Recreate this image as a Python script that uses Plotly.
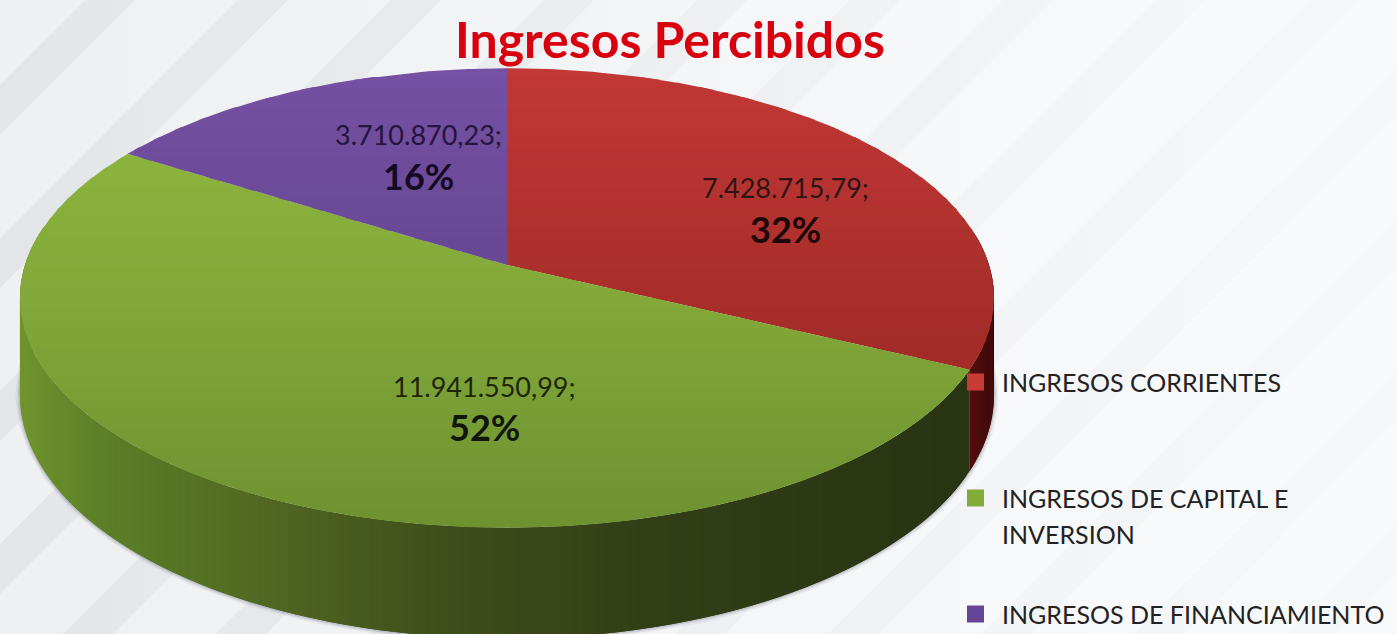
import numpy as np
import plotly.graph_objects as go

# ---- data ----
categories = [["INGRESOS CORRIENTES"], ["INGRESOS DE CAPITAL E", "INVERSION"], ["INGRESOS DE FINANCIAMIENTO"]]
values = [7428715.79, 11941550.99, 3710870.23]
title_text = "Ingresos Percibidos"

# ---- style ----
W, H = 1397, 634
FONT = "Lato, Carlito, Calibri, sans-serif"
top_colors = [
    [(0.0, (194, 56, 54)), (0.5, (168, 46, 42)), (1.0, (146, 38, 32))],
    [(0.0, (146, 186, 62)), (0.5, (130, 168, 58)), (1.0, (110, 146, 48))],
    [(0.0, (118, 80, 162)), (0.5, (100, 70, 145)), (1.0, (84, 60, 125))],
]
wall_stops = [
    [(0, (92, 16, 16)), (960, (92, 16, 16)), (1000, (58, 8, 8))],
    [(20, (112, 148, 46)), (100, (92, 128, 40)), (300, (78, 98, 32)),
     (450, (62, 78, 26)), (650, (50, 62, 22)), (970, (40, 52, 18))],
    [(0, (70, 45, 100)), (1000, (50, 30, 80))],
]
legend_colors = ["#c83a36", "#84aa3a", "#644496"]
label_colors = ["#2e1414", "#1e2608", "#24143e"]
pct_colors = ["#1c0808", "#10160a", "#140a24"]
label_pos = [(785, 187, 229), (484, 386, 427), (418, 134, 176)]
legend_pos = [(975.5, 382, 1000), (975.5, 498, 1000), (975.5, 614, 1000)]
LINE_GAP = 36

# Perspective projection of the unit disc
CX, CY, RX, RY, PERSP, DEPTH = 507, 265, 482, 225, 0.1435, 95


def project(t, r=1.0):
    u, v = r * np.sin(t), r * np.cos(t)
    d = PERSP * v + 1
    return CX + RX * u / d, CY - RY * v / d


def bottom(t):
    x, y = project(t)
    return x, y + DEPTH / (PERSP * np.cos(t) + 1)


def lerp(stops, p):
    xs = [s[0] for s in stops]
    return tuple(int(round(np.interp(p, xs, [s[1][i] for s in stops]))) for i in range(3))


def rgb(c):
    return "rgb(%d,%d,%d)" % c


def fmt(v):
    s = f"{v:,.2f}"
    return s.replace(",", "#").replace(".", ",").replace("#", ".")


def clip(poly, y0, y1):
    def half(pts, inside, edge):
        out = []
        for i in range(len(pts)):
            a, b = pts[i], pts[(i + 1) % len(pts)]
            ia, ib = inside(a), inside(b)
            if ia:
                out.append(a)
            if ia != ib:
                k = (edge - a[1]) / (b[1] - a[1])
                out.append((a[0] + k * (b[0] - a[0]), edge))
        return out
    p = half(poly, lambda q: q[1] >= y0, y0)
    if len(p) < 3:
        return []
    return half(p, lambda q: q[1] <= y1, y1)


fig = go.Figure()


def add_poly(xs, ys, color):
    fig.add_trace(go.Scatter(x=list(xs), y=list(ys), mode="lines", fill="toself", fillcolor=color,
                             line=dict(width=0), hoverinfo="skip", showlegend=False))


fractions = np.array(values) / sum(values)
edges = np.concatenate([[0], np.cumsum(fractions)]) * 2 * np.pi

# drop shadow round the base
ts = np.linspace(np.pi * 0.45, np.pi * 1.6, 240)
bx, by = bottom(ts)
for w, a in [(9, 0.05), (6, 0.08), (3, 0.14)]:
    fig.add_trace(go.Scatter(x=bx, y=by, mode="lines", line=dict(color=f"rgba(50,60,85,{a})", width=w),
                             hoverinfo="skip", showlegend=False))

# side walls: each strip overlaps the next by one step, so no seams show
for i in range(3):
    n = max(4, int((edges[i + 1] - edges[i]) / 0.02))
    tt = np.linspace(edges[i], edges[i + 1], n + 1)
    step = tt[1] - tt[0]
    for a, b in zip(tt[:-1], tt[1:]):
        m = (a + b) / 2
        if np.cos(m) > 0.15:
            continue
        seg = np.linspace(a, min(b + step, edges[i + 1]), 5)
        sx, sy = project(seg)
        ex, ey = bottom(seg)
        add_poly(list(sx) + list(ex[::-1]) + [sx[0]], list(sy) + list(ey[::-1]) + [sy[0]],
                 rgb(lerp(wall_stops[i], float(project(m)[0]))))

# top faces, shaded in horizontal bands; each band runs under the next
Y_TOP, Y_BOT = 68, 528
bands = np.linspace(Y_TOP - 1, Y_BOT + 1, 47)
for i in range(3):
    tt = np.linspace(edges[i], edges[i + 1], 200)
    rx, ry = project(tt)
    poly = [(float(CX), float(CY))] + list(zip(rx.tolist(), ry.tolist()))
    for y0, y1 in zip(bands[:-1], bands[1:]):
        p = clip(poly, y0, y1 + 3)
        if len(p) < 3:
            continue
        q = ((y0 + y1) / 2 - Y_TOP) / (Y_BOT - Y_TOP)
        px = [a[0] for a in p] + [p[0][0]]
        py = [a[1] for a in p] + [p[0][1]]
        add_poly(px, py, rgb(lerp(top_colors[i], q)))

# legend markers
for c, name, (mx, my, _) in zip(legend_colors, categories, legend_pos):
    fig.add_trace(go.Scatter(x=[mx], y=[my], mode="markers", name=" ".join(name),
                             marker=dict(symbol="square", size=17, color=c, line=dict(width=0)),
                             hoverinfo="name", showlegend=False))

# background
shapes = []
BG0, BG1 = np.array([238, 240, 242]), np.array([248, 249, 250])
STEP = 16
for x in range(0, W, STEP):
    f = x / W
    c = (BG0 + (BG1 - BG0) * min(1, f * 1.3)).astype(int)
    shapes.append(dict(type="rect", x0=x, x1=x + STEP, y0=0, y1=H, layer="below", line_width=0,
                       fillcolor="rgb(%d,%d,%d)" % tuple(c)))
for k in range(-1, 14):
    s0 = 85 + 153 * k
    s1 = s0 + 50
    for x in range(0, W, STEP):
        a = 0.058 * (1 - x / W) + 0.012
        xe = x + STEP
        pts = [(x, s0 - x), (xe, s0 - xe), (xe, s1 - xe), (x, s1 - x)]
        if max(p[1] for p in pts) < 0 or min(p[1] for p in pts) > H:
            continue
        path = "M" + " L".join(f"{p[0]},{p[1]}" for p in pts) + " Z"
        shapes.append(dict(type="path", path=path, layer="below", line_width=0,
                           fillcolor=f"rgba(90,105,115,{a:.3f})"))

# text
ann = [dict(x=670, y=39, text=f"<b>{title_text}</b>", showarrow=False, xanchor="center", yanchor="middle",
            font=dict(family=FONT, size=50, color="#d8000e"))]
pct = np.round(fractions * 100).astype(int)
for v, p, c, pc, (lx, ly, py) in zip(values, pct, label_colors, pct_colors, label_pos):
    ann.append(dict(x=lx, y=ly, text=fmt(v) + ";", showarrow=False, xanchor="center", yanchor="middle",
                    font=dict(family=FONT, size=27, color=c)))
    ann.append(dict(x=lx, y=py, text=f"<b>{p}%</b>", showarrow=False, xanchor="center", yanchor="middle",
                    font=dict(family=FONT, size=36, color=pc)))
for lines, (_, my, tx) in zip(categories, legend_pos):
    for j, line in enumerate(lines):
        ann.append(dict(x=tx, y=my + j * LINE_GAP, text=line, showarrow=False, xanchor="left",
                        yanchor="middle", align="left", font=dict(family=FONT, size=25, color="#222")))

fig.update_layout(
    width=W, height=H, margin=dict(l=0, r=0, t=0, b=0), autosize=False,
    paper_bgcolor="#f2f3f5", plot_bgcolor="rgba(0,0,0,0)", showlegend=False,
    xaxis=dict(range=[0, W], visible=False, fixedrange=True),
    yaxis=dict(range=[H, 0], visible=False, fixedrange=True),
    shapes=shapes, annotations=ann,
)
fig.write_html("out.html", config=dict(displayModeBar=False),
               post_script="document.body.style.margin='0';document.body.style.overflow='hidden';")
